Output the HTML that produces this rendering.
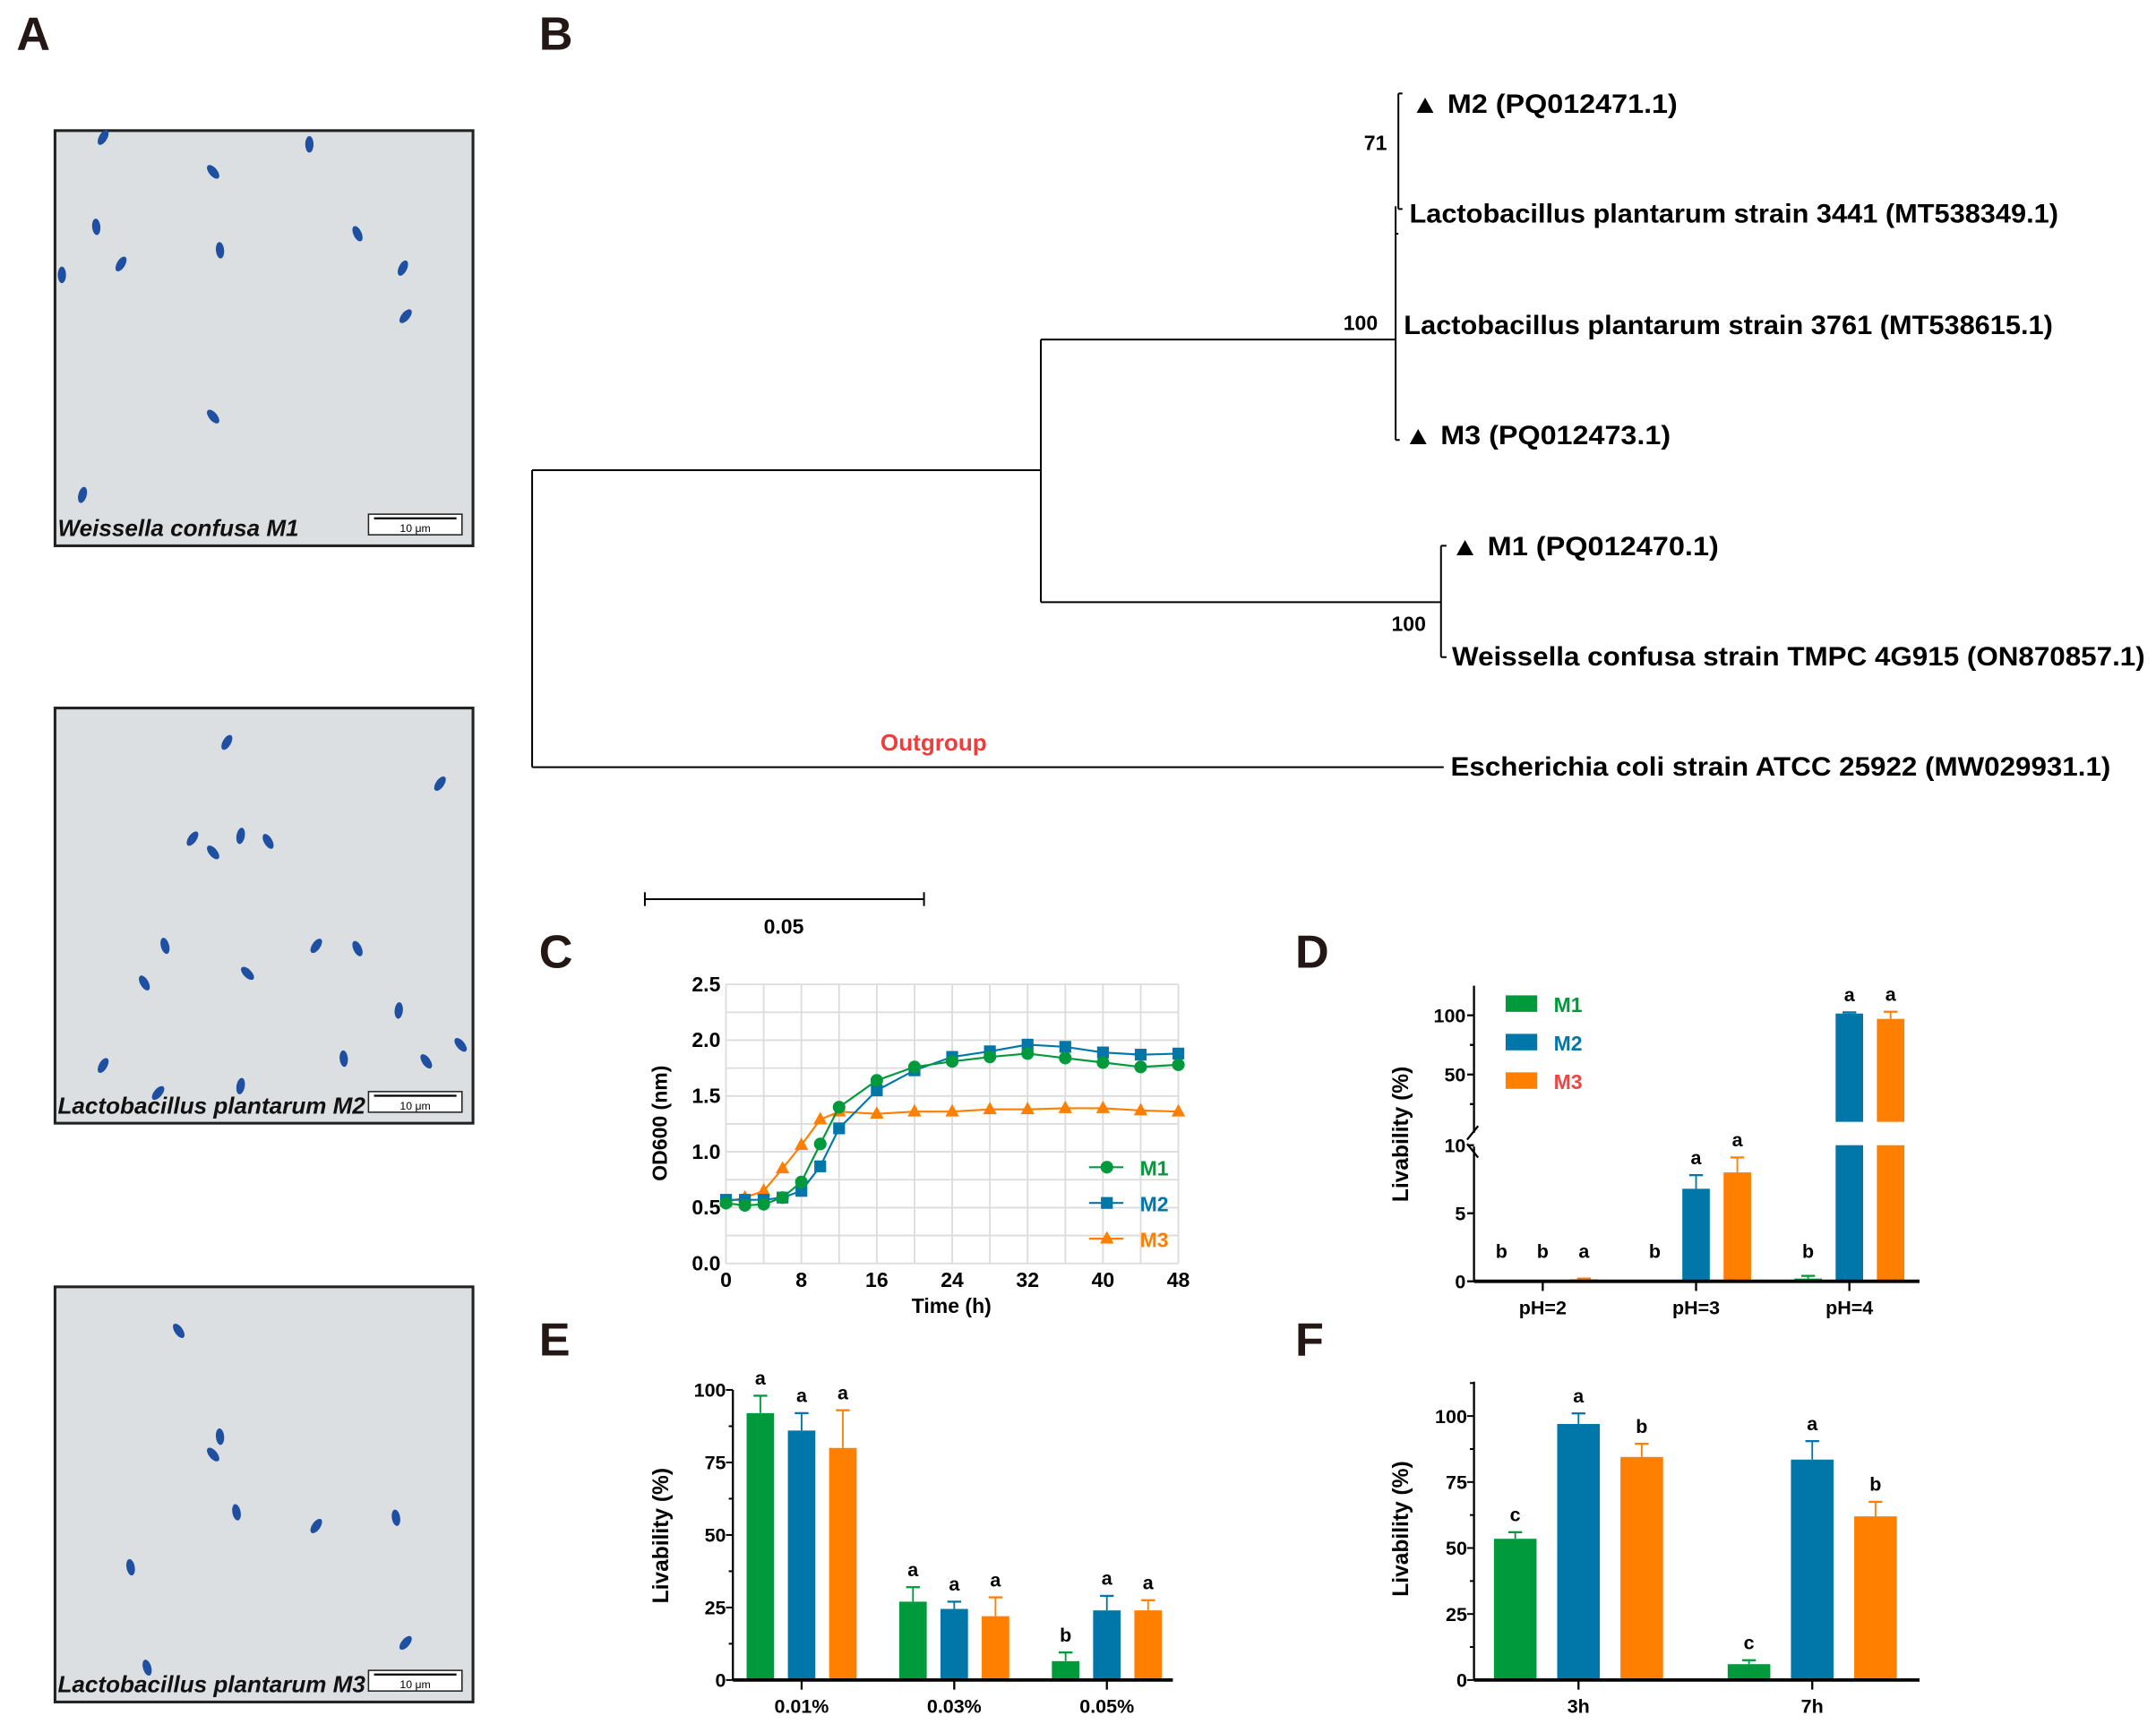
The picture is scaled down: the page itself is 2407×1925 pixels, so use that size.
<!DOCTYPE html>
<html><head><meta charset="utf-8"><style>
html,body{margin:0;padding:0;background:#fff}
svg{display:block}
text{font-family:"Liberation Sans",Arial,sans-serif}
.nar{font-family:"Liberation Sans Narrow","Liberation Sans",sans-serif;font-weight:bold}
</style></head><body>
<svg id="fig" width="2407" height="1925" viewBox="0 0 1568 1254" preserveAspectRatio="none" xmlns="http://www.w3.org/2000/svg">
<g id="panelA">
<text x="12" y="36" font-size="34" font-weight="bold" fill="#231815">A</text>
</g>
<g id="panelB" stroke="#000" stroke-width="1.3" fill="none">
<text x="392" y="36" font-size="34" font-weight="bold" fill="#231815" stroke="none">B</text>
<path d="M387 342 V558 M387 342 H757 M387 558 H1050 M757 247 V438 M757 247 H1015 M757 438 H1048 M1015 150 V320 M1015 320 H1018 M1015 170 H1017 M1017 68 V152 M1017 68 H1020 M1017 152 H1020 M1048 397 V478 M1048 397 H1052 M1048 478 H1052"/>
<g stroke="none" fill="#000" font-size="19" font-weight="bold">
<text x="1026" y="82" textLength="194" lengthAdjust="spacingAndGlyphs">▲ M2 (PQ012471.1)</text>
<text x="1025" y="162" textLength="472" lengthAdjust="spacingAndGlyphs">Lactobacillus plantarum strain 3441 (MT538349.1)</text>
<text x="1021" y="243" textLength="472" lengthAdjust="spacingAndGlyphs">Lactobacillus plantarum strain 3761 (MT538615.1)</text>
<text x="1021" y="323" textLength="194" lengthAdjust="spacingAndGlyphs">▲ M3 (PQ012473.1)</text>
<text x="1055" y="404" textLength="195" lengthAdjust="spacingAndGlyphs">▲ M1 (PQ012470.1)</text>
<text x="1056" y="484" textLength="504" lengthAdjust="spacingAndGlyphs">Weissella confusa strain TMPC 4G915 (ON870857.1)</text>
<text x="1055" y="564" textLength="480" lengthAdjust="spacingAndGlyphs">Escherichia coli strain ATCC 25922 (MW029931.1)</text>
<text x="992" y="109" font-size="15">71</text>
<text x="977" y="240" font-size="15">100</text>
<text x="1012" y="459" font-size="15">100</text>
<text x="679" y="546" font-size="17" text-anchor="middle" fill="#f03c3c">Outgroup</text>
<text x="570" y="679" font-size="15" text-anchor="middle" font-family="Liberation Serif,serif">0.05</text>
</g>
<path d="M469 654 H672 M469 649 V659 M672 649 V659"/>
</g>
<g id="gC"></g>
<g id="gD"></g>
<g id="gE"></g>
<g id="gF"></g>
</svg>
<script>
// ---- Panel C data ----
const timeH=[0,2,4,6,8,10,12,16,20,24,28,32,36,40,44,48];
const m1OD=[0.54,0.52,0.53,0.59,0.73,1.07,1.40,1.64,1.76,1.81,1.85,1.88,1.84,1.80,1.76,1.78];
const m2OD=[0.57,0.57,0.57,0.59,0.65,0.87,1.21,1.55,1.73,1.85,1.90,1.96,1.94,1.89,1.87,1.88];
const m3OD=[0.55,0.59,0.65,0.85,1.06,1.29,1.36,1.34,1.36,1.36,1.38,1.38,1.39,1.39,1.37,1.36];
const cXTicks=[0,8,16,24,32,40,48];
const cYTicks=["0.0","0.5","1.0","1.5","2.0","2.5"];
// ---- Panel D data ----
const dGroups=["pH=2","pH=3","pH=4"];
const dM1=[0.1,0,0.2], dM1Err=[0.1,0,0.4];
const dM2=[0,6.8,101.5], dM2Err=[0,7.8,102.5];
const dM3=[0.15,8.0,97], dM3Err=[0.2,9.1,103];
const dLetters=[["b","b","a"],["b","a","a"],["b","a","a"]];
// ---- Panel E data ----
const eGroups=["0.01%","0.03%","0.05%"];
const eM1=[92,27,6.5], eM1Err=[98,32,9.5];
const eM2=[86,24.5,24], eM2Err=[92,27,29];
const eM3=[80,22,24], eM3Err=[93,28.5,27.5];
const eLetters=[["a","a","a"],["a","a","a"],["b","a","a"]];
// ---- Panel F data ----
const fGroups=["3h","7h"];
const fM1=[53.5,6], fM1Err=[56,7.5];
const fM2=[97,83.5], fM2Err=[101,90.5];
const fM3=[84.5,62], fM3Err=[89.5,67.5];
const fLetters=[["c","a","b"],["c","a","b"]];

const NS="http://www.w3.org/2000/svg";
const COL=["#009a3c","#0077a8","#ff7f00"];
function mk(parent,tag,attrs,txt){const e=document.createElementNS(NS,tag);for(const k in attrs)e.setAttribute(k,attrs[k]);if(txt!==undefined)e.textContent=txt;parent.appendChild(e);return e;}

// micrographs
const fig=document.getElementById('fig');
const micro=[{y:95,label:"Weissella confusa M1"},{y:515,label:"Lactobacillus plantarum M2"},{y:936,label:"Lactobacillus plantarum M3"}];
const rods=[[[75,100],[155,125],[225,105],[70,165],[88,192],[160,182],[260,170],[293,195],[295,230],[155,303],[45,200],[60,360]],
[[165,540],[140,610],[155,620],[175,608],[195,612],[320,570],[120,688],[230,688],[260,690],[105,715],[180,708],[290,735],[335,760],[75,775],[175,790],[250,770],[310,772],[115,795]],
[[130,968],[160,1045],[155,1058],[172,1100],[230,1110],[288,1104],[95,1140],[295,1195],[107,1213]]];
micro.forEach((m,i)=>{
 const g=mk(fig,'g',{});
 
 
 mk(g,'rect',{x:40,y:m.y,width:304,height:302,fill:'#dcdfe2',stroke:'#222','stroke-width':2});
 rods[i].forEach(p=>{mk(g,'ellipse',{cx:p[0],cy:p[1],rx:3,ry:6,fill:'#1e4fa0',transform:`rotate(${(p[0]*7)%90-45} ${p[0]} ${p[1]})`});});
 const t=mk(g,'text',{x:42,y:m.y+295,'font-size':17,'font-weight':'bold','font-style':'italic',fill:'#111'},m.label);
 
 
 mk(g,'rect',{x:268,y:m.y+279,width:68,height:15,fill:'#fff',stroke:'#222','stroke-width':1});
 mk(g,'line',{x1:272,x2:332,y1:m.y+282,y2:m.y+282,stroke:'#000','stroke-width':1.5});
 mk(g,'text',{x:302,y:m.y+292,'font-size':8,'text-anchor':'middle'},'10 μm');
});

function panelLetter(g,x,y,l){const t=mk(g,'text',{x:x,y:y,'font-size':34,'font-weight':'bold',fill:'#231815'},l);}
function yTitle(g,x,y){const t=mk(g,'text',{x:x,y:y,'font-size':16,'font-weight':'bold','text-anchor':'middle',transform:`rotate(-90 ${x} ${y})`},'Livability (%)');}

// ---- Panel C ----
(function(){
 const g=document.getElementById('gC');
 panelLetter(g,392,704,'C');
 const X0=528,X1=857,Y0=919,Y1=716;
 const xC=t=>X0+t/48*(X1-X0), yC=v=>Y0-v/2.5*(Y0-Y1);
 for(let t=0;t<=48;t+=4)mk(g,'line',{x1:xC(t),x2:xC(t),y1:Y1,y2:Y0,stroke:'#dcdcdc','stroke-width':1.2});
 for(let v=0;v<=2.5001;v+=0.25)mk(g,'line',{x1:X0,x2:X1,y1:yC(v),y2:yC(v),stroke:'#dcdcdc','stroke-width':1.2});
 cXTicks.forEach(t=>{const e=mk(g,'text',{x:xC(t),y:Y0+17,'font-size':15,'text-anchor':'middle',class:'nar'},String(t));});
 cYTicks.forEach(s=>{const e=mk(g,'text',{x:X0-4,y:yC(parseFloat(s))+5,'font-size':15,'text-anchor':'end',class:'nar'},s);});
 const xt=mk(g,'text',{x:692,y:955,'font-size':15,'text-anchor':'middle',class:'nar'},'Time (h)');
 
 const yt=mk(g,'text',{x:485,y:817,'font-size':15,'font-weight':'bold','text-anchor':'middle',transform:'rotate(-90 485 817)'},'OD600 (nm)');
 
 function marker(p,x,y,k,c){if(k===0)mk(p,'circle',{cx:x,cy:y,r:4.6,fill:c});else if(k===1)mk(p,'rect',{x:x-4.3,y:y-4.3,width:8.6,height:8.6,fill:c});else mk(p,'path',{d:`M${x} ${y-5.5} L${x+5} ${y+3.5} L${x-5} ${y+3.5}Z`,fill:c});}
 [m3OD,m2OD,m1OD].forEach((arr,ri)=>{
  const k=2-ri;const s=mk(g,'g',{});
  
  mk(s,'polyline',{points:arr.map((v,i)=>xC(timeH[i])+','+yC(v)).join(' '),fill:'none',stroke:COL[k],'stroke-width':1.4});
  arr.forEach((v,i)=>marker(s,xC(timeH[i]),yC(v),k,COL[k]));
 });
 ["M1","M2","M3"].forEach((n,k)=>{const y=849+k*26;const l=mk(g,'g',{});
  mk(l,'line',{x1:792,x2:817,y1:y,y2:y,stroke:COL[k],'stroke-width':1.4});marker(l,805,y,k,COL[k]);
  mk(l,'text',{x:829,y:y+6,'font-size':15,fill:COL[k],class:'nar'},n);});
})();

// generic bar drawing
function bars(g,opt){
 const {X0,X1,yf,groups,cx,off,bw,vals,errs,letters}=opt;
 groups.forEach((gn,gi)=>{
  for(let k=0;k<3;k++){
   const v=vals[k][gi],e=errs[k][gi],x=cx(gi)+(k-1)*off;
   const b=mk(g,'g',{});
   opt.drawBar(b,x-bw/2,bw,v,COL[k]);
   if(e>v){mk(b,'line',{x1:x,x2:x,y1:yf(v),y2:yf(e),stroke:COL[k],'stroke-width':1.2});mk(b,'line',{x1:x-5,x2:x+5,y1:yf(e),y2:yf(e),stroke:COL[k],'stroke-width':1.5});}
   const ly=opt.letterY?opt.letterY(Math.max(v,e)):yf(Math.max(v,e))-8;
   const lt=mk(g,'text',{x:x,y:ly,'font-size':14,'text-anchor':'middle',class:'nar'},letters[gi][k]);
   
  }
  mk(g,'line',{x1:cx(gi),x2:cx(gi),y1:opt.Yb,y2:opt.Yb+7,stroke:'#000','stroke-width':1.5});
  const t=mk(g,'text',{x:cx(gi),y:opt.Yb+24,'font-size':14,'text-anchor':'middle',class:'nar'},gn);
  
 });
 mk(g,'line',{x1:X0,x2:X1,y1:opt.Yb,y2:opt.Yb,stroke:'#000','stroke-width':2.5});
}
function simpleBar(yf,Yb){return (p,x,w,v,c)=>mk(p,'rect',{x:x,y:yf(v),width:w,height:Yb-yf(v),fill:c});}

// ---- Panel D ----
(function(){
 const g=document.getElementById('gD');
 panelLetter(g,942,704,'D');
 const X0=1072,X1=1396,Yb=932;
 const yD=v=>v<=10?Yb-v/10*(Yb-833):816-(v-10)/115*(816-717);
 const cx=i=>1122+i*111.5;
 mk(g,'line',{x1:X0,x2:X0,y1:717,y2:824,stroke:'#000','stroke-width':1.5});
 mk(g,'line',{x1:X0,x2:X0,y1:834,y2:Yb,stroke:'#000','stroke-width':1.5});
 mk(g,'line',{x1:X0-5,x2:X0+3,y1:829,y2:819,stroke:'#000','stroke-width':1.5});
 mk(g,'line',{x1:X0-5,x2:X0+3,y1:832,y2:842,stroke:'#000','stroke-width':1.5});
 [[100,"100"],[50,"50"],[10,"10"],[5,"5"],[0,"0"]].forEach(([v,s])=>{const y=v===10?833:yD(v);mk(g,'line',{x1:X0-5,x2:X0,y1:y,y2:y,stroke:'#000','stroke-width':1.5});
  const t=mk(g,'text',{x:X0-6,y:y+5,'font-size':14,'text-anchor':'end',class:'nar'},s);});
 [75,25].forEach(v=>mk(g,'line',{x1:X0-3,x2:X0,y1:yD(v),y2:yD(v),stroke:'#000','stroke-width':1.5}));
 yTitle(g,1024,825);
 bars(g,{X0,X1,yf:yD,Yb,groups:dGroups,cx,off:30,bw:20,vals:[dM1,dM2,dM3],errs:[dM1Err,dM2Err,dM3Err],letters:dLetters,
  letterY:v=>v<=2?Yb-17:yD(v)-8,
  drawBar:(p,x,w,v,c)=>{if(v<=10){mk(p,'rect',{x:x,y:yD(v),width:w,height:Yb-yD(v),fill:c});}else{mk(p,'rect',{x:x,y:833,width:w,height:Yb-833,fill:c});mk(p,'rect',{x:x,y:yD(v),width:w,height:816-yD(v),fill:c});}}});
 ["M1","M2","M3"].forEach((n,k)=>{const y=730+k*28;const l=mk(g,'g',{});
  mk(l,'rect',{x:1095,y:y-6,width:23,height:12,fill:COL[k]});
  mk(l,'text',{x:1130,y:y+6,'font-size':15,fill:k===2?'#f04545':COL[k],class:'nar'},n);});
})();

// ---- Panel E ----
(function(){
 const g=document.getElementById('gE');
 panelLetter(g,392,986,'E');
 const X0=533,X1=853,Yb=1222,Ytop=1011;
 const yE=v=>Yb-v/100*(Yb-Ytop);
 mk(g,'line',{x1:X0,x2:X0,y1:Ytop,y2:Yb,stroke:'#000','stroke-width':1.5});
 for(let v=0;v<=100;v+=12.5)mk(g,'line',{x1:X0-(v%25===0?5:3),x2:X0,y1:yE(v),y2:yE(v),stroke:'#000','stroke-width':1.3});
 [0,25,50,75,100].forEach(v=>{const t=mk(g,'text',{x:X0-5,y:yE(v)+5,'font-size':14,'text-anchor':'end',class:'nar'},String(v));});
 yTitle(g,486,1117);
 bars(g,{X0,X1,yf:yE,Yb,groups:eGroups,cx:i=>583+i*111,off:30,bw:20,vals:[eM1,eM2,eM3],errs:[eM1Err,eM2Err,eM3Err],letters:eLetters,drawBar:simpleBar(yE,Yb)});
})();

// ---- Panel F ----
(function(){
 const g=document.getElementById('gF');
 panelLetter(g,942,986,'F');
 const X0=1072,X1=1396,Yb=1222;
 const yF=v=>Yb-v/100*(Yb-1030);
 mk(g,'line',{x1:X0,x2:X0,y1:1005,y2:Yb,stroke:'#000','stroke-width':1.5});
 for(let v=0;v<=112.5;v+=12.5)mk(g,'line',{x1:X0-(v%25===0?5:3),x2:X0,y1:yF(v),y2:yF(v),stroke:'#000','stroke-width':1.3});
 [0,25,50,75,100].forEach(v=>{const t=mk(g,'text',{x:X0-5,y:yF(v)+5,'font-size':14,'text-anchor':'end',class:'nar'},String(v));});
 yTitle(g,1024,1112);
 bars(g,{X0,X1,yf:yF,Yb,groups:fGroups,cx:i=>1148+i*170,off:46,bw:31,vals:[fM1,fM2,fM3],errs:[fM1Err,fM2Err,fM3Err],letters:fLetters,drawBar:simpleBar(yF,Yb)});
})();
</script>
</body></html>
